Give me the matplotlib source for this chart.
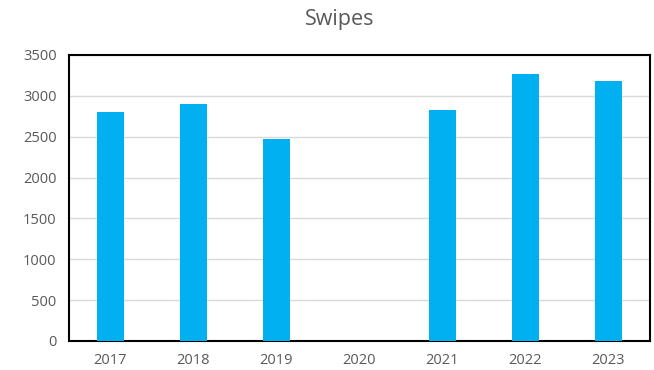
import matplotlib
matplotlib.use("Agg")
import matplotlib.pyplot as plt
import numpy as np

years = ["2017", "2018", "2019", "2020", "2021", "2022", "2023"]
swipes = [2800, 2900, 2470, 0, 2825, 3270, 3180]

plt.rcParams["font.family"] = ["Open Sans", "DejaVu Sans"]
text_color = "#595959"

fig = plt.figure(figsize=(6.54, 3.70), dpi=100)
ax = fig.add_axes([0.1055, 0.0784, 0.888, 0.773])

x = np.arange(len(years))
ax.bar(x, swipes, width=0.32, color="#00B0F0", zorder=3)

ax.set_xlim(-0.5, len(years) - 0.5)
ax.set_ylim(0, 3500)
ax.set_yticks(np.arange(0, 3501, 500))
ax.set_xticks(x)
ax.set_xticklabels(years)
ax.yaxis.grid(True, color="#D9D9D9", linewidth=1, zorder=0)
ax.tick_params(length=0, labelsize=10.5, colors=text_color, pad=9)
ax.tick_params(axis="x", pad=9)
for s in ax.spines.values():
    s.set_color("black")
    s.set_linewidth(1.5)

fig.text(0.52, 0.948, "Swipes", ha="center", va="center", fontsize=15.5, color=text_color)

fig.savefig("out.png", dpi=100)
